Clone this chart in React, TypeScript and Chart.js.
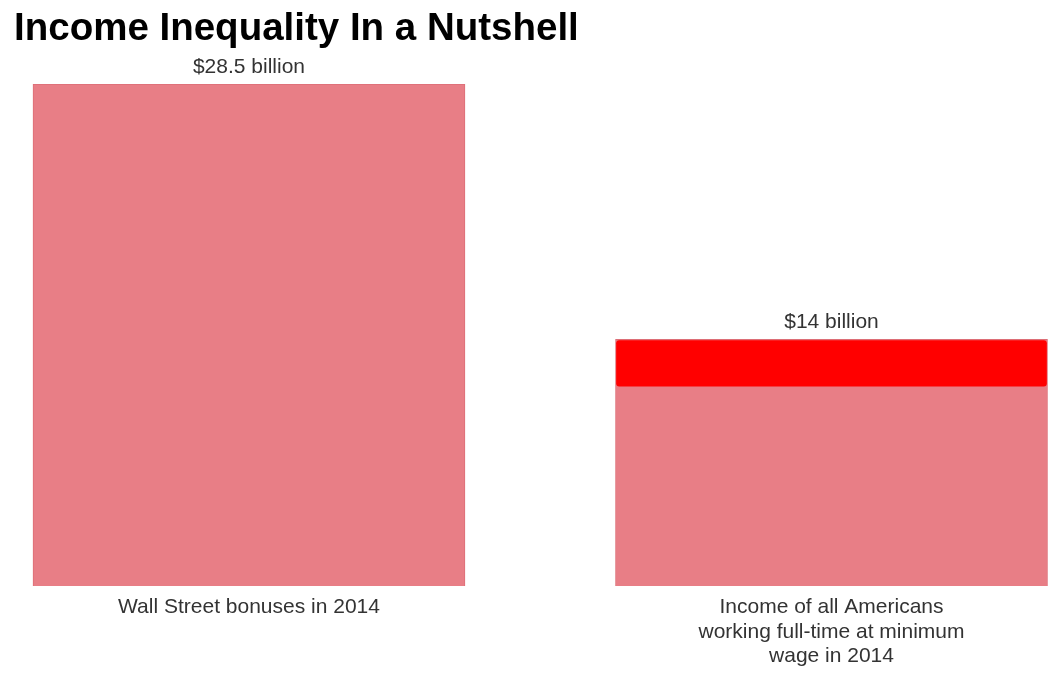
import React, { useEffect, useRef } from "react";
import { Chart, registerables } from "chart.js";

Chart.register(...registerables);

const titleText = "Income Inequality In a Nutshell";
const categories: string[][] = [
  ["Wall Street bonuses in 2014"],
  ["Income of all Americans", "working full-time at minimum", "wage in 2014"],
];
const valuesBillion: number[] = [28.5, 14];
const valueLabels: string[] = valuesBillion.map((v) => `$${v} billion`);
// red highlighted band on the second bar (range in billions)
const highlightIndex = 1;
const highlightRange: [number, number] = [11.35, 13.94];

const FONT = "'Liberation Sans', Arial, Helvetica, sans-serif";

const valueLabelPlugin = {
  id: "valueLabels",
  afterDatasetsDraw(chart: any) {
    const ctx = chart.ctx;
    const meta = chart.getDatasetMeta(0);
    ctx.save();
    ctx.font = `21px ${FONT}`;
    ctx.fillStyle = "#333333";
    ctx.textAlign = "center";
    ctx.textBaseline = "middle";
    meta.data.forEach((bar: any, i: number) => {
      ctx.fillText(valueLabels[i], bar.x, bar.y - 17);
    });
    ctx.restore();
  },
};

export default function App() {
  const ref = useRef<HTMLCanvasElement | null>(null);
  useEffect(() => {
    if (!ref.current) return;
    const chart = new Chart(ref.current, {
      type: "bar",
      data: {
        datasets: [
          {
            label: "Value",
            data: valuesBillion.map((v, i) => ({ x: i, y: v })),
            backgroundColor: "#E87E86",
            borderColor: "#DD6E76",
            borderWidth: 1,
            barThickness: 432,
            grouped: false,
            order: 2,
          } as any,
          {
            label: "Highlight",
            data: [{ x: highlightIndex, y: highlightRange }],
            backgroundColor: "#FF0000",
            borderWidth: 0,
            borderRadius: 3,
            borderSkipped: false,
            barThickness: 430,
            grouped: false,
            order: 1,
          } as any,
        ],
      },
      options: {
        animation: false,
        responsive: true,
        maintainAspectRatio: false,
        layout: { padding: { left: 14, right: 0, top: 0, bottom: 12.4 } },
        plugins: {
          legend: { display: false },
          tooltip: { enabled: false },
          title: {
            display: true,
            text: titleText,
            align: "start",
            color: "#000000",
            font: { family: FONT, size: 38.5, weight: "bold", lineHeight: 1.2 },
            padding: { top: 6.4, bottom: 31.4 },
          },
        },
        scales: {
          x: {
            type: "linear",
            offset: false,
            bounds: "data",
            min: -0.4034,
            max: 1.3957,
            grid: { display: false, drawTicks: false },
            border: { display: false },
            afterBuildTicks: (scale: any) => {
              scale.ticks = categories.map((_, i) => ({ value: i }));
            },
            ticks: {
              autoSkip: false,
              maxRotation: 0,
              padding: 9,
              color: "#333333",
              font: { family: FONT, size: 21, lineHeight: 1.1667 },
              callback: (v: any) => categories[Number(v)] ?? "",
            },
          },
          y: {
            display: false,
            min: 0,
            max: 28.5,
          },
        },
      },
      plugins: [valueLabelPlugin],
    });
    return () => chart.destroy();
  }, []);
  return (
    <div style={{ position: "absolute", left: 0, top: 0, width: 1062, height: 690 }}>
      <canvas ref={ref} />
    </div>
  );
}
